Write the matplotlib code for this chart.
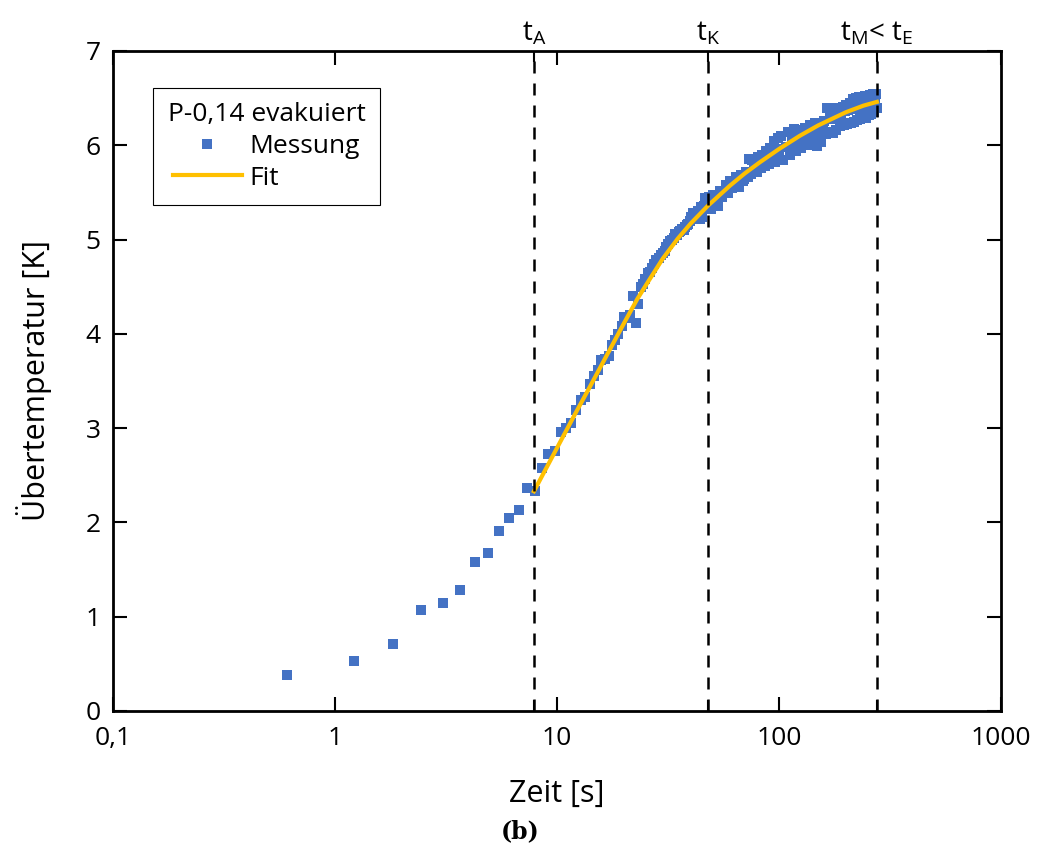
import numpy as np
import matplotlib.pyplot as plt
from matplotlib.ticker import FixedLocator, NullFormatter
plt.rcParams["font.family"] = ["Open Sans", "DejaVu Sans"]
plt.rcParams["mathtext.fontset"] = "custom"
plt.rcParams["mathtext.rm"] = "Open Sans"

# Messung: Zeit [s] und Übertemperatur [K]
zeit = [0.61, 1.22, 1.83, 2.44, 3.05, 3.66, 4.27, 4.88, 5.49, 6.10,
        6.71, 7.32, 7.93, 8.54, 9.15, 9.76, 10.37, 10.98, 11.59, 12.20,
        12.81, 13.42, 14.03, 14.64, 15.25, 15.86, 16.47, 17.08, 17.69, 18.30,
        18.91, 19.52, 20.13, 20.74, 21.35, 21.96, 22.57, 23.18, 23.79, 24.40,
        25.01, 25.62, 26.23, 26.84, 27.45, 28.06, 28.67, 29.28, 29.89, 30.50,
        31.11, 31.72, 32.33, 32.94, 33.55, 34.16, 34.77, 35.38, 35.99, 36.60,
        37.21, 37.82, 38.43, 39.04, 39.65, 40.26, 40.87, 41.48, 42.09, 42.70,
        43.31, 43.92, 44.53, 45.14, 45.75, 46.36, 46.97, 47.58, 48.19, 48.80,
        49.4, 50.6, 51.8, 53.0, 54.2, 55.4, 56.6, 57.8, 59.0, 60.2,
        61.4, 62.6, 63.8, 65.0, 66.2, 67.4, 68.6, 69.8, 71.0, 72.2,
        73.4, 74.6, 75.8, 77.0, 78.2, 79.4, 80.6, 81.8, 83.0, 84.2,
        85.4, 86.6, 87.8, 89.0, 90.2, 91.4, 92.6, 93.8, 95.0, 96.2,
        97.4, 98.6, 99.8,
        102.2, 104.6, 107.0, 109.4, 111.8, 114.2, 116.6, 119.0, 121.4, 123.8,
        126.2, 128.6, 131.0, 133.4, 135.8, 138.2, 140.6, 143.0, 145.4, 147.8,
        150.2, 152.6, 155.0, 157.4, 159.8, 162.2, 164.6, 167.0, 169.4, 171.8,
        174.2, 176.6, 179.0, 181.4, 183.8, 186.2, 188.6, 191.0, 193.4, 195.8,
        198.2, 200.6, 203.0, 205.4, 207.8, 210.2, 212.6, 215.0, 217.4, 219.8,
        222.2, 224.6, 227.0, 229.4, 231.8, 234.2, 236.6, 239.0, 241.4, 243.8,
        246.2, 248.6, 251.0, 253.4, 255.8, 258.2, 260.6, 263.0, 265.4, 267.8,
        270.2, 272.6, 275.0]
temp = [0.38, 0.53, 0.71, 1.07, 1.15, 1.28, 1.58, 1.68, 1.91, 2.05,
        2.13, 2.36, 2.33, 2.58, 2.73, 2.76, 2.96, 3.00, 3.05, 3.19,
        3.30, 3.33, 3.47, 3.55, 3.62, 3.72, 3.73, 3.76, 3.88, 3.93,
        4.00, 4.08, 4.18, 4.17, 4.20, 4.40, 4.11, 4.32, 4.50, 4.53,
        4.58, 4.64, 4.66, 4.70, 4.74, 4.78, 4.80, 4.84, 4.86, 4.88,
        4.92, 4.95, 4.98, 5.00, 5.02, 5.06, 5.05, 5.08, 5.09, 5.11,
        5.10, 5.13, 5.15, 5.16, 5.20, 5.24, 5.28, 5.22, 5.23, 5.28,
        5.30, 5.22, 5.35, 5.24, 5.36, 5.44, 5.38, 5.40, 5.45, 5.37,
        5.32, 5.47, 5.40, 5.36, 5.52, 5.45, 5.50, 5.58, 5.49, 5.62,
        5.55, 5.57, 5.66, 5.60, 5.56, 5.68, 5.62, 5.64, 5.72, 5.66,
        5.85, 5.70, 5.84, 5.74, 5.78, 5.72, 5.88, 5.80, 5.76, 5.90,
        5.82, 5.78, 5.94, 5.86, 5.80, 5.97, 5.84, 5.90, 6.04, 5.82,
        5.96, 6.08, 5.88,
        6.10, 5.84, 5.98, 6.14, 5.90, 6.04, 6.17, 5.94, 6.08, 6.16,
        5.97, 6.10, 6.18, 6.00, 6.12, 6.22, 6.04, 6.15, 6.24, 5.99,
        6.12, 6.22, 6.03, 6.16, 6.26, 6.12, 6.39, 6.14, 6.30, 6.40,
        6.13, 6.28, 6.38, 6.16, 6.31, 6.40, 6.20, 6.33, 6.41, 6.22,
        6.36, 6.43, 6.23, 6.37, 6.45, 6.24, 6.40, 6.49, 6.25, 6.38,
        6.50, 6.27, 6.42, 6.51, 6.28, 6.40, 6.50, 6.30, 6.44, 6.52,
        6.29, 6.41, 6.51, 6.32, 6.45, 6.53, 6.33, 6.46, 6.54, 6.35,
        6.48, 6.54, 6.40]

# Fit
fit_zeit = [7.87, 10, 12, 14, 17, 20, 23, 26, 30, 35, 40, 47.9, 60, 70, 82,
            100, 124, 150, 200, 240, 276]
fit_temp = [2.33, 2.79, 3.14, 3.43, 3.80, 4.11, 4.37, 4.57, 4.80, 5.01, 5.17,
            5.36, 5.57, 5.70, 5.82, 5.96, 6.10, 6.21, 6.35, 6.42, 6.46]

# charakteristische Zeiten
t_marks = [7.87, 47.9, 276]
t_labels = [r'$\mathregular{t_A}$', r'$\mathregular{t_K}$',
            r'$\mathregular{t_M}$< $\mathregular{t_E}$']

x_ticks = [0.1, 1, 10, 100, 1000]
x_tick_labels = ['0,1', '1', '10', '100', '1000']

fig = plt.figure(figsize=(10.37, 8.48), dpi=100)
ax = fig.add_axes([0.109, 0.1616, 0.8563, 0.7783])

ax.plot(zeit, temp, 's', color='#4472C4', markersize=7.9, markeredgewidth=0,
        label='Messung', zorder=2)
ax.plot(fit_zeit, fit_temp, '-', color='#FFC000', lw=3, label='Fit', zorder=3)
for t in t_marks:
    ax.axvline(t, color='black', lw=1.8, linestyle=(0, (4.8, 4.0)), zorder=4)

ax.set_xscale('log')
ax.set_xlim(0.1, 1000)
ax.set_ylim(0, 7)
ax.set_xticks(x_ticks, labels=x_tick_labels)
ax.xaxis.set_minor_locator(FixedLocator(t_marks))
ax.xaxis.set_minor_formatter(NullFormatter())
ax.set_yticks(range(0, 8))

ax.tick_params(which='both', direction='in', top=True, right=True, width=1.5)
ax.tick_params(which='major', length=10, labelsize=19)
ax.tick_params(which='minor', length=8)
ax.tick_params(axis='x', which='major', pad=11)
ax.tick_params(axis='y', which='major', pad=9)
for s in ax.spines.values():
    s.set_linewidth(2)

ax.set_xlabel('Zeit [s]', fontsize=22, labelpad=20)
ax.set_ylabel('Übertemperatur [K]', fontsize=22, labelpad=24)

for t, lab in zip(t_marks, t_labels):
    ax.text(t, 1.006, lab, transform=ax.get_xaxis_transform(), ha='center',
            va='bottom', fontsize=20)

leg = ax.legend(title='P-0,14 evakuiert', loc='upper left',
                bbox_to_anchor=(0.045, 0.944), borderaxespad=0,
                fontsize=19, title_fontsize=19, numpoints=1,
                handlelength=2.6, handletextpad=0.3, fancybox=False,
                framealpha=1, edgecolor='black', borderpad=0.55,
                labelspacing=0.25)
leg.get_frame().set_linewidth(0.8)

fig.text(0.502, 0.012, '(b)', family='DejaVu Serif', weight='bold',
         fontsize=17, ha='center')

plt.savefig('out.png', dpi=100)
